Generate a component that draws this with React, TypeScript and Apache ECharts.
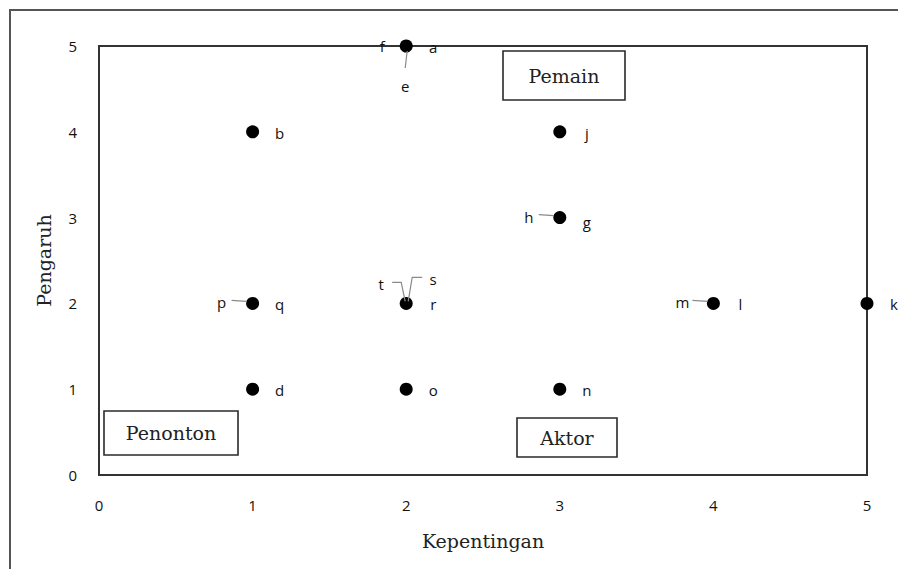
import React, { useEffect, useRef } from "react";
import * as echarts from "echarts";

// Dots (Kepentingan, Pengaruh)
const pointX = [2, 1, 3, 3, 1, 2, 4, 5, 1, 2, 3];
const pointY = [5, 4, 4, 3, 2, 2, 2, 2, 1, 1, 1];

// Letter labels attached to the dots
const labelText = ["a", "b", "d", "e", "f", "g", "h", "j", "k", "l", "m", "n", "o", "p", "q", "r", "s", "t"];
const labelX = [2, 1, 1, 2, 2, 3, 3, 3, 5, 4, 4, 3, 2, 1, 1, 2, 2, 2];
const labelY = [5, 4, 1, 5, 5, 3, 3, 4, 2, 2, 2, 1, 1, 2, 2, 2, 2, 2];
const labelSide = [
  "right", "right", "right", "below", "left", "rightLow", "leftLine", "right", "right",
  "right", "leftLine", "right", "right", "leftLine", "right", "right", "upRight", "upLeft",
];

const xTicks = [0, 1, 2, 3, 4, 5];
const yTicks = [0, 1, 2, 3, 4, 5];
const xName = "Kepentingan";
const yName = "Pengaruh";
const quadrantNames = ["Pemain", "Aktor", "Penonton"];

const SANS = "'Open Sans', 'Liberation Sans', sans-serif";
const SERIF = "'DejaVu Serif', 'Liberation Serif', serif";
const LINE = { stroke: "#8a8a8a", lineWidth: 1.2, fill: null } as any;

function renderLabel(params: any, api: any) {
  const i = params.dataIndex;
  const [cx, cy] = api.coord([api.value(0), api.value(1)]);
  const side = labelSide[i];
  const txt = labelText[i];
  const children: any[] = [];
  const text = (dx: number, dy: number) => ({
    type: "text",
    x: cx + dx,
    y: cy + dy,
    style: {
      text: txt,
      fill: "#111",
      font: `15px ${SANS}`,
      align: "center",
      verticalAlign: "middle",
    },
  });
  if (side === "right") children.push(text(27, 1));
  else if (side === "rightLow") children.push(text(27, 4));
  else if (side === "left") children.push(text(-24, 0));
  else if (side === "leftLine") {
    children.push(text(-31, -1));
    children.push({ type: "line", shape: { x1: cx - 21, y1: cy - 3, x2: cx - 6, y2: cy - 2 }, style: LINE });
  } else if (side === "below") {
    children.push(text(-1, 40));
    children.push({ type: "line", shape: { x1: cx + 1, y1: cy + 5, x2: cx - 1, y2: cy + 22 }, style: LINE });
  } else if (side === "upLeft") {
    children.push(text(-25, -19));
    children.push({
      type: "polyline",
      shape: { points: [[cx - 14, cy - 21], [cx - 5, cy - 21], [cx - 1, cy - 2]] },
      style: LINE,
    });
  } else if (side === "upRight") {
    children.push(text(27, -24));
    children.push({
      type: "polyline",
      shape: { points: [[cx + 16, cy - 26], [cx + 6, cy - 26], [cx + 2, cy - 2]] },
      style: LINE,
    });
  }
  return { type: "group", children };
}

export default function App() {
  const ref = useRef<HTMLDivElement>(null);
  useEffect(() => {
    if (!ref.current) return;
    const chart = echarts.init(ref.current, undefined, { renderer: "svg" });
    const box = (x: number, y: number, w: number, h: number, t: string) => ({
      type: "group",
      children: [
        { type: "rect", shape: { x, y, width: w, height: h }, style: { fill: "#fff", stroke: "#2a2a2a", lineWidth: 1.6 } },
        {
          type: "text",
          x: x + w / 2,
          y: y + h / 2,
          style: { text: t, font: `19px ${SERIF}`, fill: "#222", align: "center", verticalAlign: "middle" },
        },
      ],
    });
    chart.setOption({
      animation: false,
      backgroundColor: "#fff",
      grid: {
        left: 99,
        top: 46,
        width: 768,
        height: 429,
        show: true,
        borderColor: "#333",
        borderWidth: 2,
      },
      xAxis: {
        type: "value",
        min: xTicks[0],
        max: xTicks[xTicks.length - 1],
        interval: 1,
        name: xName,
        nameLocation: "middle",
        nameGap: 56,
        nameTextStyle: { fontFamily: SERIF, fontSize: 19, color: "#222" },
        axisLine: { show: false },
        axisTick: { show: false },
        splitLine: { show: false },
        axisLabel: { margin: 22, fontFamily: SANS, fontSize: 15, color: "#111" },
      },
      yAxis: {
        type: "value",
        min: yTicks[0],
        max: yTicks[yTicks.length - 1],
        interval: 1,
        name: yName,
        nameLocation: "middle",
        nameGap: 46,
        nameTextStyle: { fontFamily: SERIF, fontSize: 19, color: "#222" },
        axisLine: { show: false },
        axisTick: { show: false },
        splitLine: { show: false },
        axisLabel: { margin: 22, fontFamily: SANS, fontSize: 15, color: "#111" },
      },
      graphic: [
        {
          type: "rect",
          shape: { x: 10, y: 10, width: 900, height: 580 },
          style: { fill: "none", stroke: "#555", lineWidth: 2 },
          z: 0,
        },
        box(503, 51, 122, 49, quadrantNames[0]),
        box(517, 418, 100, 39, quadrantNames[1]),
        box(104, 411, 134, 44, quadrantNames[2]),
      ],
      series: [
        {
          type: "scatter",
          clip: false,
          symbolSize: 13,
          itemStyle: { color: "#000", opacity: 1 },
          data: pointX.map((x, i) => [x, pointY[i]]),
          z: 3,
        },
        {
          type: "custom",
          renderItem: renderLabel,
          data: labelX.map((x, i) => [x, labelY[i]]),
          z: 4,
        },
      ],
    });
    return () => chart.dispose();
  }, []);
  return <div ref={ref} style={{ position: "fixed", left: 0, top: 0, width: 898, height: 569 }} />;
}
